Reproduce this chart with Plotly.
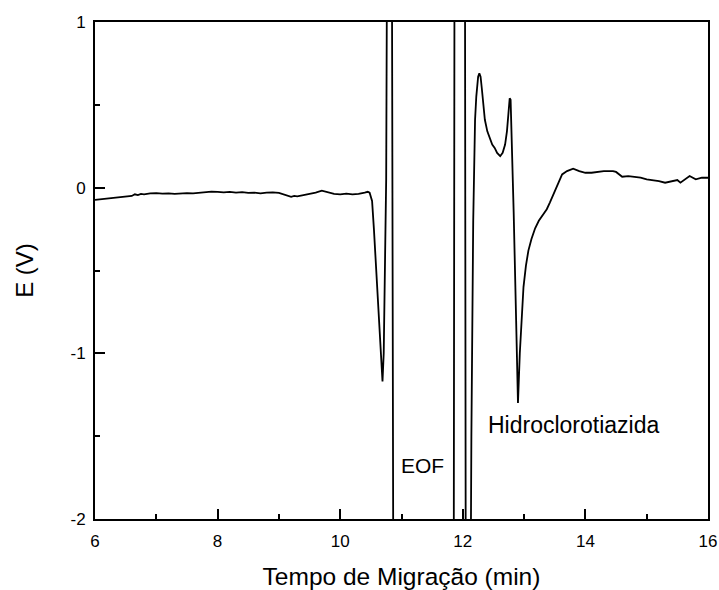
import plotly.graph_objects as go

# Migration time (min) and potential E (V)
tempo = [
    6.0, 6.1, 6.2, 6.3, 6.4, 6.5, 6.6, 6.65, 6.7, 6.75, 6.8, 6.9, 7.0, 7.1, 7.2, 7.3,
    7.4, 7.5, 7.6, 7.7, 7.8, 7.9, 8.0, 8.1, 8.2, 8.3, 8.4, 8.5, 8.6, 8.7, 8.8, 8.9,
    9.0, 9.1, 9.2, 9.25, 9.3, 9.4, 9.5, 9.6, 9.7, 9.75, 9.8, 9.9, 10.0, 10.1, 10.2,
    10.3, 10.4, 10.45, 10.48, 10.5, 10.52, 10.55, 10.58, 10.62, 10.66, 10.69, 10.71,
    10.73, 10.75, 10.77, 10.8, 10.84, 10.87, 11.85, 11.87, 12.03, 12.05, 12.12, 12.14,
    12.17, 12.2, 12.22, 12.25, 12.27, 12.29, 12.31, 12.33, 12.36, 12.4, 12.44, 12.48,
    12.52, 12.56, 12.61, 12.65, 12.69, 12.72, 12.745, 12.765, 12.78, 12.8, 12.83, 12.87,
    12.9, 12.93, 12.96, 12.99, 13.03, 13.07, 13.12, 13.18, 13.24, 13.3, 13.37, 13.42,
    13.47, 13.52, 13.57, 13.62, 13.7, 13.8, 13.9, 14.0, 14.1, 14.2, 14.3, 14.4, 14.45,
    14.5, 14.55, 14.6, 14.7, 14.8, 14.9, 15.0, 15.1, 15.2, 15.3, 15.4, 15.5, 15.55,
    15.6, 15.7, 15.8, 15.9, 16.0,
]
potencial = [
    -0.074, -0.070, -0.066, -0.062, -0.060, -0.055, -0.050, -0.040, -0.045, -0.038,
    -0.040, -0.035, -0.033, -0.036, -0.034, -0.038, -0.035, -0.033, -0.035, -0.030,
    -0.028, -0.024, -0.025, -0.028, -0.025, -0.030, -0.027, -0.032, -0.030, -0.034,
    -0.030, -0.028, -0.032, -0.042, -0.055, -0.050, -0.052, -0.045, -0.038, -0.030,
    -0.018, -0.022, -0.030, -0.038, -0.040, -0.036, -0.040, -0.038, -0.030, -0.025,
    -0.030, -0.050, -0.080, -0.250, -0.450, -0.750, -1.050, -1.170, -1.000, -0.500,
    0.050, 2.000, 2.500, 2.000, -3.000, -3.000, 3.000, 3.000, -3.000, -3.000, -1.500,
    -0.200, 0.410, 0.550, 0.670, 0.690, 0.670, 0.600, 0.500, 0.410, 0.340, 0.300,
    0.260, 0.240, 0.210, 0.190, 0.210, 0.260, 0.340, 0.450, 0.540, 0.530, 0.300,
    -0.150, -0.800, -1.300, -1.000, -0.780, -0.600, -0.470, -0.380, -0.310, -0.245,
    -0.200, -0.165, -0.130, -0.090, -0.050, -0.010, 0.040, 0.080, 0.100, 0.115, 0.100,
    0.090, 0.090, 0.095, 0.100, 0.100, 0.100, 0.095, 0.080, 0.066, 0.070, 0.066, 0.060,
    0.050, 0.045, 0.040, 0.030, 0.040, 0.046, 0.030, 0.045, 0.070, 0.050, 0.060, 0.060,
]

x_ticks = [6, 8, 10, 12, 14, 16]
y_ticks = [-2, -1, 0, 1]
anot_texto = ["EOF", "Hidroclorotiazida"]
anot_x = [11.35, 13.81]
anot_y = [-1.68, -1.43]
anot_tam = [21, 23]

fig = go.Figure()
fig.add_trace(go.Scatter(x=tempo, y=potencial, mode="lines",
                         line=dict(color="black", width=1.8), showlegend=False))

for t, ax_, ay_, s in zip(anot_texto, anot_x, anot_y, anot_tam):
    fig.add_annotation(x=ax_, y=ay_, text=t, showarrow=False,
                       font=dict(size=s, color="black", family="Liberation Sans, Arial"))

axis_common = dict(showgrid=False, zeroline=False, showline=True, linecolor="black",
                   linewidth=2, mirror=True, ticks="inside", tickcolor="black",
                   tickwidth=1.5, ticklen=10, automargin=False,
                   tickfont=dict(size=17, color="black", family="Liberation Sans, Arial"))

fig.update_xaxes(range=[6, 16], tickvals=x_ticks, ticktext=[str(v) for v in x_ticks],
                 ticklabelstandoff=6,
                 minor=dict(dtick=1, ticks="inside", ticklen=5, tickwidth=1.5, tickcolor="black"),
                 title=dict(text="Tempo de Migração (min)", standoff=19,
                            font=dict(size=24.5, color="black", family="Liberation Sans, Arial")),
                 **axis_common)
fig.update_yaxes(range=[-2, 1], tickvals=y_ticks, ticktext=[str(v) for v in y_ticks],
                 ticklabelstandoff=4,
                 minor=dict(dtick=0.5, ticks="inside", ticklen=5, tickwidth=1.5, tickcolor="black"),
                 title=dict(text="E (V)", standoff=30,
                            font=dict(size=24, color="black", family="Liberation Sans, Arial")),
                 **axis_common)

fig.update_layout(width=719, height=590, margin=dict(l=95, r=11, t=22, b=71),
                  plot_bgcolor="white", paper_bgcolor="white")

# remove the page's default body margin and scrollbars so the figure fills the window
fig.write_html("out.html", config={"displayModeBar": False},
               post_script="document.body.style.margin='0';document.body.style.overflow='hidden';")
